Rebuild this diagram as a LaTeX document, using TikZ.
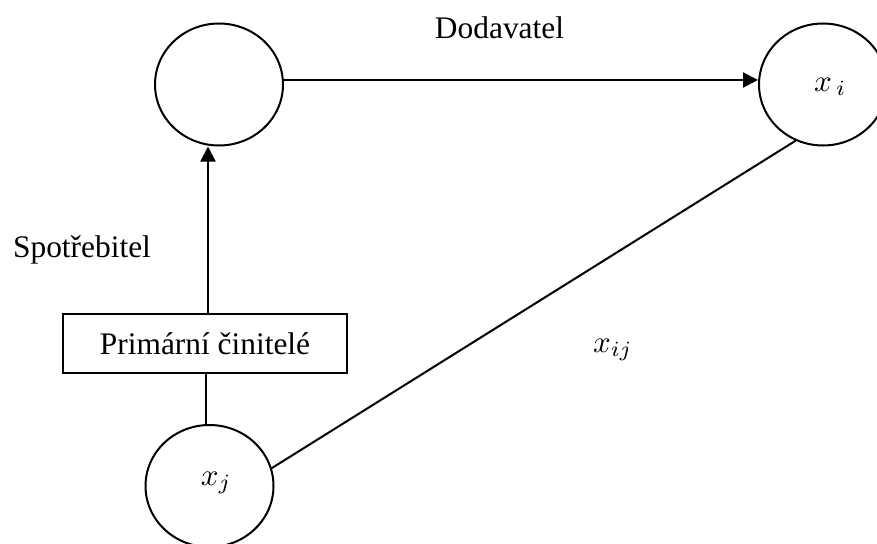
\documentclass[tikz,border=0pt]{standalone}
\usepackage{graphicx}
\usepackage{fontspec}
\setmainfont{Liberation Serif}
\usetikzlibrary{arrows.meta,shapes.geometric}
\begin{document}
\begin{tikzpicture}[x=1pt,y=-1pt,
  every node/.style={font=\fontsize{31.4}{36}\selectfont},
  circ/.style={draw,line width=2pt,ellipse,minimum width=128pt,minimum height=122pt,inner sep=0pt},
  boxnode/.style={draw,line width=2pt,minimum width=284pt,minimum height=59pt,inner sep=0pt},
  lbl/.style={inner sep=0pt},
  mlbl/.style={inner sep=0pt,font=\fontsize{10}{12}\selectfont},
  conn/.style={line width=2pt},
  arr/.style={line width=2pt,-{Triangle[length=15pt,width=15pt]}}]
\useasboundingbox (0,0) rectangle (877,543);
\clip (0,0) rectangle (877,543);
\node[circ] (A) at (219,84.5) {};
\node[circ] (B) at (823,84.5) {};
\node[circ] (C) at (209.5,486) {};
\node[boxnode] (P) at (205,343.5) {Primární činitelé};
\coordinate (h) at (0,80);
\coordinate (v) at (208,0);
\coordinate (w) at (206,0);
\draw[arr] (A.east |- h) -- (B.west |- h);
\draw[arr] (P.north -| v) -- (A.south -| v);
\draw[conn] (C.north -| w) -- (P.south -| w);
\draw[conn] (B.244) -- (C.16);
\node[lbl,anchor=base] (dod) at (499.5,38) {Dodavatel};
\node[lbl,anchor=base] (spo) at (82,257) {Spotřebitel};
\node[mlbl,anchor=base west] (xij) at (593,352) {\scalebox{3.1}{$x_{ij}$}};
\node[mlbl,anchor=base west] (xi) at (814,91) {\scalebox{3.1}{$x_{\,i}$}};
\node[mlbl,anchor=base west] (xj) at (200.7,485) {\scalebox{3.1}{$x_{j}$}};
\end{tikzpicture}
\end{document}
